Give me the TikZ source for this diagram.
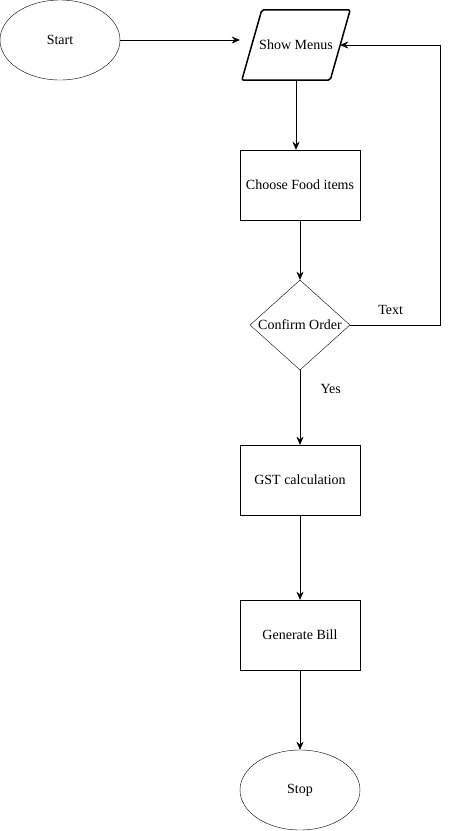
\documentclass[tikz,border=0pt]{standalone}
\usepackage{fontspec}
\setmainfont{Liberation Serif}
\usetikzlibrary{shapes.geometric,arrows.meta}
\begin{document}
\begin{tikzpicture}[x=1pt,y=-1pt,>={Stealth[length=8pt,width=7pt]},font=\fontsize{14}{16}\selectfont]
      \tikzstyle{term}=[ellipse,draw,inner sep=0pt,minimum width=120pt,minimum height=80pt]
      \tikzstyle{proc}=[rectangle,draw,inner sep=0pt,minimum width=120pt,minimum height=70pt]
      \tikzstyle{io}=[rectangle,inner sep=0pt,minimum width=88pt,minimum height=70pt]
      \tikzstyle{dec}=[diamond,draw,inner sep=0pt,aspect=1.11,minimum width=100pt,minimum height=90pt]
      \useasboundingbox (0,0) rectangle (449,831);
      \node[term] at (60,40) (start) {Start};
      \node[io] at (296,45) (menus) {Show Menus};
      \draw[line width=1.5pt,rounded corners=2pt] ([xshift=-10pt]menus.south west) -- ([xshift=10pt]menus.north west)
        -- ([xshift=10pt]menus.north east) -- ([xshift=-10pt]menus.south east) -- cycle;
      \node[proc] at (300,185) (food) {Choose Food items};
      \node[dec] at (300,325) (confirm) {Confirm Order};
      \node[proc] at (300,480) (gst) {GST calculation};
      \node[proc] at (300,635) (bill) {Generate Bill};
      \node[term] at (300,790) (stop) {Stop};
      \coordinate (back) at (440,325);
      \draw[->] (start.east) -- ([xshift=-12pt]start.east -| menus.west);
      \draw[->] (menus.south) -- (menus.south |- food.north);
      \draw[->] (food) -- (confirm);
      \draw[->] (confirm) -- node[right,pos=0.25,xshift=17pt]{Yes} (gst);
      \foreach \i/\j in {gst/bill,bill/stop}
        \draw[->] (\i) -- (\j);
      \draw[->] (confirm.east) -- node[above,pos=0.45,yshift=7pt]{Text} (back) |- (menus.east);
    \end{tikzpicture}
\end{document}
